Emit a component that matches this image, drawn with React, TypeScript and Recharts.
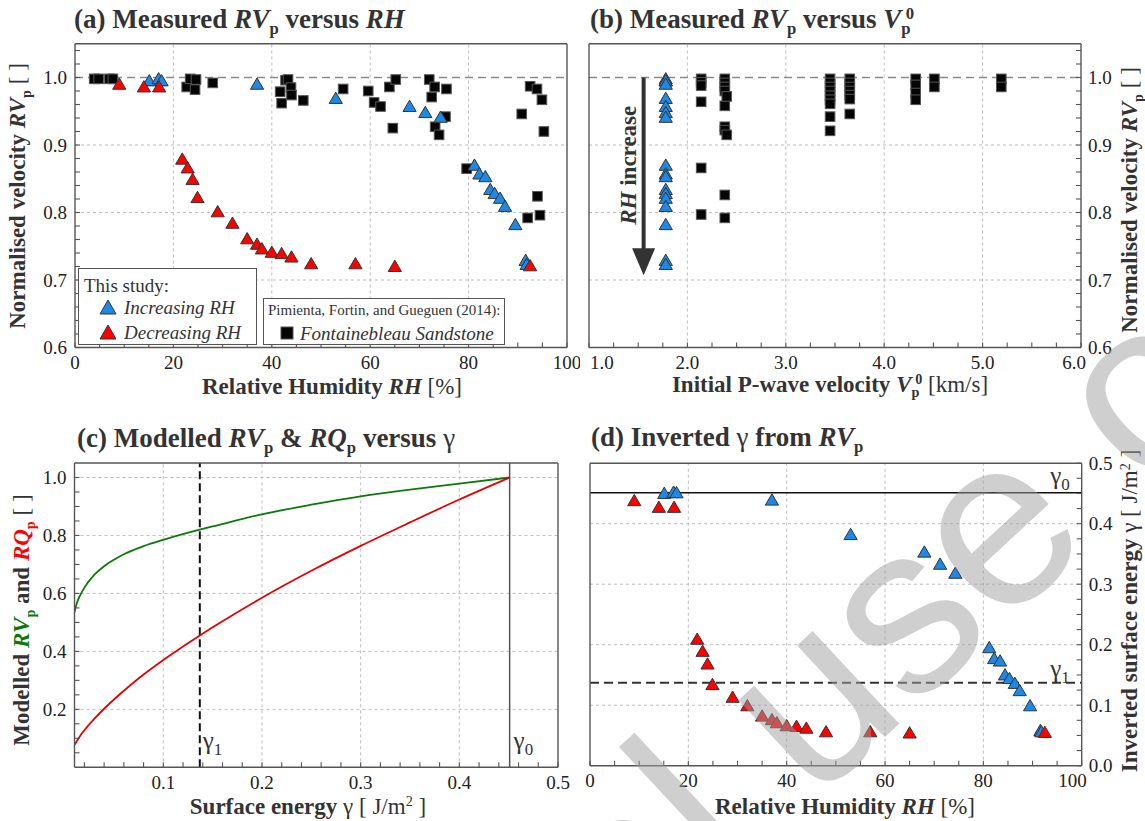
import React from 'react';
import { ScatterChart, Scatter, ComposedChart, Line, XAxis, YAxis, ReferenceLine, ReferenceDot } from 'recharts';

// ---- this study: increasing RH (panels a, b, d)
const incRH = [15.1, 17.0, 17.6, 37.0, 53.0, 68.0, 71.2, 74.3, 81.2, 82.2, 83.4, 84.4, 85.3, 86.4, 87.4, 89.5, 91.6, 91.8];
const incRV = [0.995, 0.998, 0.995, 0.990, 0.969, 0.957, 0.948, 0.941, 0.870, 0.857, 0.853, 0.834, 0.828, 0.821, 0.809, 0.782, 0.729, 0.723];
const incGamma = [0.450, 0.452, 0.451, 0.439, 0.382, 0.353, 0.333, 0.318, 0.195, 0.177, 0.173, 0.150, 0.144, 0.136, 0.124, 0.099, 0.058, 0.056];
const incV0 = 1.78;

// ---- this study: decreasing RH (panels a, d)
const decRH = [9.0, 14.0, 17.1, 21.8, 22.9, 23.9, 24.9, 29.0, 32.0, 35.0, 37.0, 38.0, 40.0, 42.0, 44.0, 48.0, 57.0, 65.0, 92.5];
const decRV = [0.990, 0.986, 0.986, 0.879, 0.866, 0.849, 0.822, 0.801, 0.784, 0.761, 0.753, 0.746, 0.741, 0.739, 0.734, 0.724, 0.724, 0.720, 0.721];
const decGamma = [0.438, 0.427, 0.427, 0.209, 0.189, 0.168, 0.134, 0.113, 0.099, 0.082, 0.076, 0.071, 0.066, 0.065, 0.062, 0.056, 0.056, 0.054, 0.055];

// ---- Pimienta, Fortin and Gueguen (2014), panel a
const pimRH = [3.9, 4.8, 7.0, 7.7, 22.7, 23.4, 24.6, 24.4, 28.0, 41.7, 42.0, 42.8, 43.3, 43.9, 44.0, 46.4, 54.5, 59.6, 60.8, 62.1, 63.9, 64.6, 65.2, 72.0, 72.5, 73.1, 73.2, 74.0, 75.3, 75.5, 79.6, 90.8, 92.0, 92.5, 93.9, 94.0, 94.5, 94.9, 95.3];
const pimRV = [0.998, 0.998, 0.998, 0.998, 0.986, 0.998, 0.997, 0.982, 0.992, 0.979, 0.962, 0.996, 0.997, 0.985, 0.974, 0.966, 0.983, 0.980, 0.963, 0.957, 0.986, 0.925, 0.997, 0.997, 0.971, 0.986, 0.927, 0.915, 0.942, 0.983, 0.865, 0.946, 0.792, 0.987, 0.983, 0.824, 0.796, 0.967, 0.920];

// ---- Pimienta et al., panel b (initial P-wave velocity)
const pimV0 = [2.14, 2.14, 2.14, 2.14, 2.14, 2.14, 2.38, 2.38, 2.38, 2.38, 2.38, 2.38, 2.38, 2.38, 2.38, 2.40, 2.40, 3.45, 3.45, 3.45, 3.45, 3.45, 3.45, 3.45, 3.45, 3.45, 3.65, 3.65, 3.65, 3.65, 3.65, 3.65, 3.65, 4.32, 4.32, 4.32, 4.32, 4.51, 4.51, 5.19, 5.19];
const pimRVb = [0.998, 0.993, 0.988, 0.964, 0.866, 0.797, 0.998, 0.992, 0.986, 0.980, 0.958, 0.927, 0.922, 0.826, 0.792, 0.972, 0.915, 0.998, 0.992, 0.986, 0.980, 0.973, 0.967, 0.961, 0.942, 0.921, 0.998, 0.992, 0.986, 0.980, 0.974, 0.968, 0.946, 0.998, 0.989, 0.977, 0.967, 0.998, 0.986, 0.998, 0.986];

// ---- modelled curves, panel c
const cGamma = [0.01, 0.012, 0.016, 0.02, 0.03, 0.04, 0.05, 0.06, 0.08, 0.1, 0.137, 0.15, 0.2, 0.25, 0.3, 0.35, 0.4, 0.451];
const cRV = [0.535, 0.563, 0.595, 0.62, 0.664, 0.694, 0.716, 0.735, 0.763, 0.785, 0.82, 0.831, 0.873, 0.906, 0.935, 0.958, 0.979, 1.0];
const cRQ = [0.078, 0.088, 0.11, 0.128, 0.167, 0.202, 0.234, 0.264, 0.32, 0.37, 0.455, 0.483, 0.585, 0.678, 0.764, 0.845, 0.924, 1.0];

const gamma0 = 0.451;
const gamma1 = 0.137;

// ---- ticks (minor + major) and labelled majors
const rhTicks = [0, 5, 10, 15, 20, 25, 30, 35, 40, 45, 50, 55, 60, 65, 70, 75, 80, 85, 90, 95, 100];
const rhMajors = [0, 20, 40, 60, 80, 100];
const rvTicks = [0.6, 0.62, 0.64, 0.66, 0.68, 0.7, 0.72, 0.74, 0.76, 0.78, 0.8, 0.82, 0.84, 0.86, 0.88, 0.9, 0.92, 0.94, 0.96, 0.98, 1.0, 1.02, 1.04];
const rvMajors = [0.6, 0.7, 0.8, 0.9, 1.0];
const v0Ticks = [1, 1.25, 1.5, 1.75, 2, 2.25, 2.5, 2.75, 3, 3.25, 3.5, 3.75, 4, 4.25, 4.5, 4.75, 5, 5.25, 5.5, 5.75, 6];
const v0Majors = [1, 2, 3, 4, 5, 6];
const gTicks = [0.02, 0.04, 0.06, 0.08, 0.1, 0.12, 0.14, 0.16, 0.18, 0.2, 0.22, 0.24, 0.26, 0.28, 0.3, 0.32, 0.34, 0.36, 0.38, 0.4, 0.42, 0.44, 0.46, 0.48, 0.5];
const gMajors = [0.1, 0.2, 0.3, 0.4, 0.5];
const mTicks = [0.05, 0.1, 0.15, 0.2, 0.25, 0.3, 0.35, 0.4, 0.45, 0.5, 0.55, 0.6, 0.65, 0.7, 0.75, 0.8, 0.85, 0.9, 0.95, 1.0];
const mMajors = [0.2, 0.4, 0.6, 0.8, 1.0];
const invTicks = [0, 0.025, 0.05, 0.075, 0.1, 0.125, 0.15, 0.175, 0.2, 0.225, 0.25, 0.275, 0.3, 0.325, 0.35, 0.375, 0.4, 0.425, 0.45, 0.475, 0.5];
const invMajors = [0, 0.1, 0.2, 0.3, 0.4, 0.5];

const SERIF = '"Liberation Serif", "Times New Roman", serif';
const FRAME = '#555';
const GRID = '#bdbdbd';
const BLUE = '#1e88e5';
const RED = '#ff0000';
const GREEN = '#0b7a0b';
const INK = '#333';

const same = (a: number, b: number) => Math.abs(a - b) < 1e-9;
const fmt = (majors: number[], digits: number) => (v: number) =>
  majors.some((m) => same(m, v)) ? v.toFixed(digits) : '';

const tickStyle = { fill: '#222', fontSize: 19, fontFamily: SERIF };
const axisLine = { stroke: FRAME, strokeWidth: 1.4 };
const tickLine = { stroke: FRAME, strokeWidth: 1.1 };

// bottom tick labels; edge labels can be pulled inside the frame
const xTick = (f: (v: number) => string, lo: number, hi: number, startLo: boolean, endHi: boolean) => (props: any) => {
  const { x, y, payload } = props;
  const v = payload.value as number;
  const label = f(v);
  if (!label) return <g />;
  let anchor: 'start' | 'middle' | 'end' = 'middle';
  let dx = 0;
  if (startLo && same(v, lo)) { anchor = 'start'; dx = 1; }
  if (endHi && same(v, hi)) { anchor = 'end'; dx = 5; }
  return (
    <text x={x + dx} y={y} dy="0.71em" textAnchor={anchor} fill="#222" fontSize={19} fontFamily={SERIF}>{label}</text>
  );
};

const triangle = (fill: string) => (props: any) => {
  const { cx, cy } = props;
  if (cx == null || cy == null) return <g />;
  return (
    <polygon
      points={`${cx},${cy - 6.3} ${cx - 6.6},${cy + 5} ${cx + 6.6},${cy + 5}`}
      fill={fill}
      stroke="#333"
      strokeWidth={1}
    />
  );
};

const square = (props: any) => {
  const { cx, cy } = props;
  if (cx == null || cy == null) return <g />;
  return <rect x={cx - 4.8} y={cy - 4.8} width={9.6} height={9.6} fill="#050505" stroke="#555" strokeWidth={1} />;
};

type AxisOpts = {
  xDomain: [number, number];
  xTicks: number[];
  xFmt: (v: number) => string;
  yDomain: [number, number];
  yTicks: number[];
  yFmt: (v: number) => string;
  ySide: 'left' | 'right';
  xKey?: string;
  yKey?: string;
  startLo?: boolean;
  endHi?: boolean;
};

// box frame: four axes with inward ticks, labels on bottom and one side
function frameAxes(o: AxisOpts) {
  const left = o.ySide === 'left';
  const bottomTick = xTick(o.xFmt, o.xDomain[0], o.xDomain[1], !!o.startLo, !!o.endHi);
  return [
    <XAxis key="xb" xAxisId={0} type="number" dataKey={o.xKey} domain={o.xDomain} ticks={o.xTicks}
      interval={0} allowDataOverflow height={30} tickSize={-5} tickMargin={13} tick={bottomTick} axisLine={axisLine} tickLine={tickLine} />,
    <XAxis key="xt" xAxisId="top" orientation="top" type="number" domain={o.xDomain} ticks={o.xTicks}
      interval={0} allowDataOverflow height={5} tickSize={-5} tick={false} axisLine={axisLine} tickLine={tickLine} />,
    <YAxis key="yl" yAxisId={0} type="number" dataKey={o.yKey} domain={o.yDomain} ticks={o.yTicks} tickFormatter={o.yFmt}
      interval={0} allowDataOverflow width={left ? 45 : 5} tickSize={-5} tickMargin={13} tick={left ? tickStyle : false}
      axisLine={axisLine} tickLine={tickLine} />,
    <YAxis key="yr" yAxisId="r" orientation="right" type="number" domain={o.yDomain} ticks={o.yTicks} tickFormatter={o.yFmt}
      interval={0} allowDataOverflow width={left ? 5 : 45} tickSize={-5} tickMargin={12} tick={left ? false : tickStyle}
      axisLine={axisLine} tickLine={tickLine} />,
  ];
}

const gridLines = (xs: number[], ys: number[]) => [
  ...xs.map((v) => <ReferenceLine key={'gx' + v} x={v} stroke={GRID} strokeDasharray="3 3" strokeWidth={1} />),
  ...ys.map((v) => <ReferenceLine key={'gy' + v} y={v} stroke={GRID} strokeDasharray="3 3" strokeWidth={1} />),
];

const gammaLabel = (sub: string) => (props: any) => (
  <text x={props.cx} y={props.cy} fontFamily={SERIF} fontSize={25} fill={INK}>
    γ<tspan fontSize={17} dy={6}>{sub}</tspan>
  </text>
);

// ---- text helpers (HTML overlay)
const Sub = ({ children }: { children: React.ReactNode }) => (
  <span style={{ fontSize: '0.62em', position: 'relative', top: '0.4em' }}>{children}</span>
);
const Sup = ({ children, shift = 0 }: { children: React.ReactNode; shift?: number }) => (
  <span style={{ fontSize: '0.62em', position: 'relative', top: '-0.5em', marginLeft: `${shift}em` }}>{children}</span>
);

const Title = ({ left, cy, children }: { left: number; cy: number; children: React.ReactNode }) => (
  <div style={{ position: 'absolute', left, top: cy - 13.5, fontSize: 27, lineHeight: '27px', fontWeight: 'bold', color: INK, whiteSpace: 'nowrap' }}>
    {children}
  </div>
);

const HLabel = ({ cx, cy, children }: { cx: number; cy: number; children: React.ReactNode }) => (
  <div style={{ position: 'absolute', left: cx, top: cy - 11.5, transform: 'translateX(-50%)', fontSize: 23, lineHeight: '23px', fontWeight: 'bold', color: INK, whiteSpace: 'nowrap' }}>
    {children}
  </div>
);

const VLabel = ({ cx, cy, children }: { cx: number; cy: number; children: React.ReactNode }) => (
  <div style={{ position: 'absolute', left: cx, top: cy, transform: 'translate(-50%, -50%) rotate(-90deg)', fontSize: 23, lineHeight: '23px', fontWeight: 'bold', color: INK, whiteSpace: 'nowrap' }}>
    {children}
  </div>
);

const Reg = ({ children }: { children: React.ReactNode }) => <span style={{ fontWeight: 'normal' }}>{children}</span>;

// ---- panel data tables
const aInc = incRH.map((x, i) => ({ x, y: incRV[i] }));
const aDec = decRH.map((x, i) => ({ x, y: decRV[i] }));
const aPim = pimRH.map((x, i) => ({ x, y: pimRV[i] }));
const bInc = incRV.map((y) => ({ x: incV0, y }));
const bPim = pimV0.map((x, i) => ({ x, y: pimRVb[i] }));
const cData = cGamma.map((g, i) => ({ g, rv: cRV[i], rq: cRQ[i] }));
const dInc = incRH.map((x, i) => ({ x, y: incGamma[i] }));
const dDec = decRH.map((x, i) => ({ x, y: decGamma[i] }));

function PanelA() {
  return (
    <ScatterChart width={580} height={420} margin={{ top: 38.75, right: 8, bottom: 42.5, left: 30 }}>
      {frameAxes({ xDomain: [0, 100], xTicks: rhTicks, xFmt: fmt(rhMajors, 0), yDomain: [0.6, 1.05], yTicks: rvTicks, yFmt: fmt(rvMajors, 1), ySide: 'left', xKey: 'x', yKey: 'y' })}
      {gridLines([20, 40, 60, 80], [0.7, 0.8, 0.9])}
      <ReferenceLine y={1} stroke="#8a8a8a" strokeDasharray="8 5" strokeWidth={1.4} />
      <Scatter data={aPim} shape={square} isAnimationActive={false} />
      <Scatter data={aInc} shape={triangle(BLUE)} isAnimationActive={false} />
      <Scatter data={aDec} shape={triangle(RED)} isAnimationActive={false} />
    </ScatterChart>
  );
}

function PanelB() {
  return (
    <ScatterChart width={565} height={420} margin={{ top: 38.75, right: 19, bottom: 42.5, left: 4 }}>
      {frameAxes({ xDomain: [1, 6], xTicks: v0Ticks, xFmt: fmt(v0Majors, 1), yDomain: [0.6, 1.05], yTicks: rvTicks, yFmt: fmt(rvMajors, 1), ySide: 'right', xKey: 'x', yKey: 'y', startLo: true, endHi: true })}
      {gridLines([2, 3, 4, 5], [0.7, 0.8, 0.9])}
      <ReferenceLine y={1} stroke="#8a8a8a" strokeDasharray="8 5" strokeWidth={1.4} />
      <ReferenceLine segment={[{ x: 1.555, y: 1.0 }, { x: 1.555, y: 0.745 }]} stroke="#333" strokeWidth={4} />
      <ReferenceDot x={1.555} y={0.727} shape={(p: any) => (
        <polygon points={`${p.cx - 11.5},${p.cy - 13.5} ${p.cx + 11.5},${p.cy - 13.5} ${p.cx},${p.cy + 13.5}`} fill="#333" />
      )} />
      <ReferenceDot x={1.4} y={0.87} shape={(p: any) => (
        <text transform={`translate(${p.cx},${p.cy}) rotate(-90)`} textAnchor="middle" dominantBaseline="central"
          fontFamily={SERIF} fontWeight="bold" fontSize={23} fill={INK}>
          <tspan fontStyle="italic">RH</tspan> increase
        </text>
      )} />
      <Scatter data={bPim} shape={square} isAnimationActive={false} />
      <Scatter data={bInc} shape={triangle(BLUE)} isAnimationActive={false} />
    </ScatterChart>
  );
}

function PanelC() {
  return (
    <ComposedChart width={580} height={401} data={cData} margin={{ top: 38, right: 17, bottom: 23.7, left: 29.5 }}>
      {frameAxes({ xDomain: [0.01, 0.5], xTicks: gTicks, xFmt: fmt(gMajors, 1), yDomain: [0, 1.05], yTicks: mTicks, yFmt: fmt(mMajors, 1), ySide: 'left', xKey: 'g' })}
      {gridLines([0.1, 0.2, 0.3, 0.4], [0.2, 0.4, 0.6, 0.8, 1.0])}
      <ReferenceLine x={gamma1} stroke="#111" strokeDasharray="8 4" strokeWidth={2} />
      <ReferenceLine x={gamma0} stroke="#555" strokeWidth={1.5} />
      <ReferenceDot x={0.14} y={0.064} shape={gammaLabel('1')} />
      <ReferenceDot x={0.455} y={0.064} shape={gammaLabel('0')} />
      <Line dataKey="rv" type="monotone" stroke={GREEN} strokeWidth={1.8} dot={false} isAnimationActive={false} />
      <Line dataKey="rq" type="monotone" stroke="#e60000" strokeWidth={1.8} dot={false} isAnimationActive={false} />
    </ComposedChart>
  );
}

function PanelD() {
  return (
    <ScatterChart width={565} height={401} margin={{ top: 38.2, right: 18.3, bottom: 25.3, left: 5 }}>
      {frameAxes({ xDomain: [0, 100], xTicks: rhTicks, xFmt: fmt(rhMajors, 0), yDomain: [0, 0.5], yTicks: invTicks, yFmt: fmt(invMajors, 1), ySide: 'right', xKey: 'x', yKey: 'y', endHi: true })}
      {gridLines([20, 40, 60, 80], [0.1, 0.2, 0.3, 0.4])}
      <ReferenceLine y={gamma0} stroke="#111" strokeWidth={1.5} />
      <ReferenceLine y={gamma1} stroke="#333" strokeDasharray="9 5" strokeWidth={2} />
      <ReferenceDot x={93.6} y={0.466} shape={gammaLabel('0')} />
      <ReferenceDot x={93.6} y={0.147} shape={gammaLabel('1')} />
      <Scatter data={dInc} shape={triangle(BLUE)} isAnimationActive={false} />
      <Scatter data={dDec} shape={triangle(RED)} isAnimationActive={false} />
    </ScatterChart>
  );
}

const LegendTri = ({ fill, left, top }: { fill: string; left: number; top: number }) => (
  <svg width={18} height={16} style={{ position: 'absolute', left, top }}>
    <polygon points="9,1 1,15 17,15" fill={fill} stroke="#333" strokeWidth={1} />
  </svg>
);

const boxText = (left: number, cy: number, size: number, italic: boolean) => ({
  position: 'absolute' as const, left, top: cy - size / 2, fontSize: size, lineHeight: `${size}px`,
  fontStyle: italic ? 'italic' : 'normal', color: INK, whiteSpace: 'nowrap' as const,
});

export default function App() {
  return (
    <div style={{ position: 'absolute', left: 0, top: 0, width: 1145, height: 821, background: '#fff', fontFamily: SERIF, overflow: 'hidden' }}>
      <div style={{ position: 'absolute', left: 0, top: 0 }}><PanelA /></div>
      <div style={{ position: 'absolute', left: 580, top: 0 }}><PanelB /></div>
      <div style={{ position: 'absolute', left: 0, top: 420 }}><PanelC /></div>
      <div style={{ position: 'absolute', left: 580, top: 420 }}><PanelD /></div>

      {/* panel titles */}
      <Title left={74} cy={19}>(a) Measured <i>RV</i><Sub>p</Sub> versus <i>RH</i></Title>
      <Title left={590} cy={19}>(b) Measured <i>RV</i><Sub>p</Sub> versus <i>V</i><Sub>p</Sub><Sup shift={-0.3}>0</Sup></Title>
      <Title left={77} cy={438}>(c) Modelled <i>RV</i><Sub>p</Sub> &amp; <i>RQ</i><Sub>p</Sub> versus <Reg>γ</Reg></Title>
      <Title left={591} cy={437}>(d) Inverted <Reg>γ</Reg> from <i>RV</i><Sub>p</Sub></Title>

      {/* axis titles */}
      <HLabel cx={332} cy={386}>Relative Humidity <i>RH</i> <Reg>[%]</Reg></HLabel>
      <VLabel cx={19} cy={196}>Normalised velocity <i>RV</i><Sub>p</Sub> <Reg>[ ]</Reg></VLabel>
      <HLabel cx={830} cy={384}>Initial P-wave velocity <i>V</i><Sub>p</Sub><Sup shift={-0.3}>0</Sup> <Reg>[km/s]</Reg></HLabel>
      <VLabel cx={1131} cy={200}>Normalised velocity <i>RV</i><Sub>p</Sub> <Reg>[ ]</Reg></VLabel>
      <HLabel cx={308} cy={806}>Surface energy <Reg>γ [ J/m<Sup>2</Sup> ]</Reg></HLabel>
      <VLabel cx={23} cy={620}>
        Modelled <span style={{ color: GREEN }}><i>RV</i><Sub>p</Sub></span> and <span style={{ color: RED }}><i>RQ</i><Sub>p</Sub></span> <Reg>[ ]</Reg>
      </VLabel>
      <HLabel cx={845} cy={806}>Relative Humidity <i>RH</i> <Reg>[%]</Reg></HLabel>
      <VLabel cx={1131} cy={611}>Inverted surface energy <Reg>γ [ J/m<Sup>2</Sup> ]</Reg></VLabel>

      {/* legend: this study */}
      <div style={{ position: 'absolute', left: 78, top: 268, width: 179, height: 77, border: '1.5px solid #555', background: '#fff', boxSizing: 'border-box' }}>
        <div style={boxText(5, 16, 19, false)}>This study:</div>
        <LegendTri fill={BLUE} left={20} top={30} />
        <div style={boxText(45, 38, 19, true)}>Increasing RH</div>
        <LegendTri fill={RED} left={20} top={55} />
        <div style={boxText(45, 63, 19, true)}>Decreasing RH</div>
      </div>
      {/* legend: Pimienta et al. */}
      <div style={{ position: 'absolute', left: 263, top: 298, width: 242, height: 47, border: '1.5px solid #555', background: '#fff', boxSizing: 'border-box' }}>
        <div style={boxText(4, 11, 15, false)}>Pimienta, Fortin, and Gueguen (2014):</div>
        <svg width={14} height={14} style={{ position: 'absolute', left: 16, top: 27 }}>
          <rect x={1} y={1} width={12} height={12} fill="#050505" stroke="#555" strokeWidth={1} />
        </svg>
        <div style={boxText(36, 34, 19, true)}>Fontainebleau Sandstone</div>
      </div>

      {/* watermark */}
      <svg width={1145} height={821} style={{ position: 'absolute', left: 0, top: 0, pointerEvents: 'none' }}>
        <text transform="translate(72,1495) rotate(-43)" fontFamily='"Liberation Sans", Arial, sans-serif' fontSize={240} fill="#a0a0a0" fillOpacity={0.5}>
          Personal use only
        </text>
      </svg>
    </div>
  );
}
